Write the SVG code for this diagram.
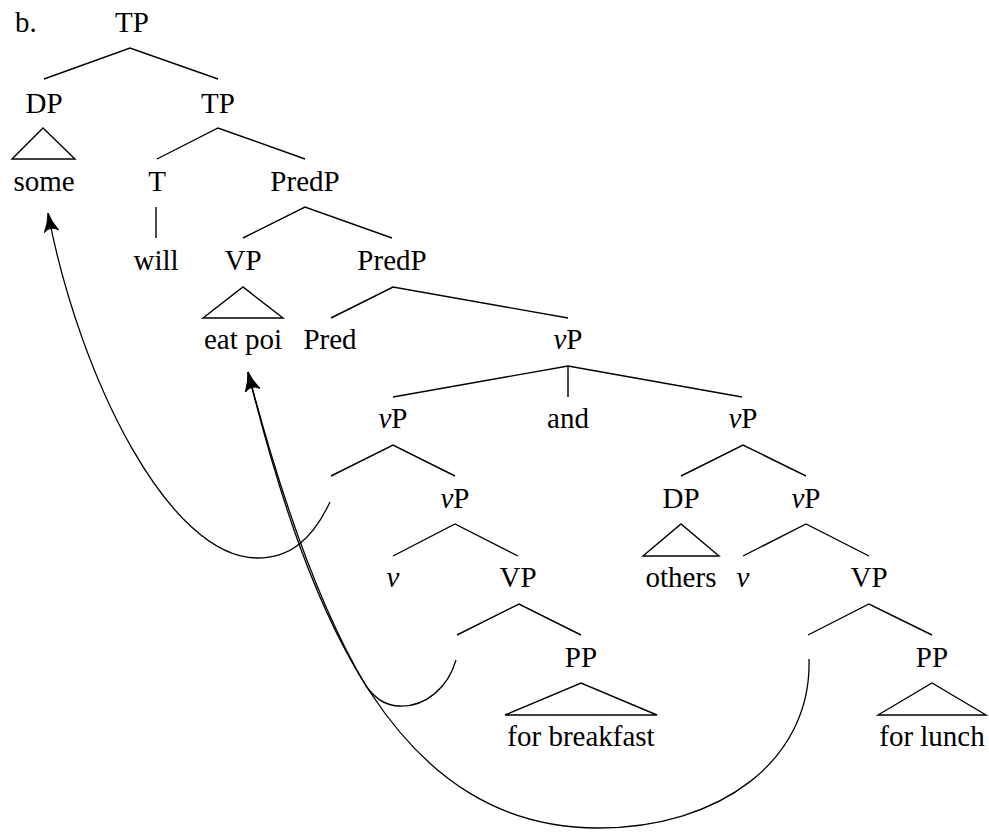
<svg xmlns="http://www.w3.org/2000/svg" width="989" height="832" viewBox="0 0 989 832">
<style>
text{font-family:'Liberation Serif','Times New Roman',serif;font-size:29px;fill:#000;text-anchor:middle}
.l{stroke:#000;stroke-width:1.4;fill:none}
.c{stroke:#000;stroke-width:1.3;fill:none}
.i{font-style:italic}
</style>
<defs>
<marker id="ah" markerUnits="userSpaceOnUse" markerWidth="24" markerHeight="24" refX="0" refY="0" viewBox="-16 -8 18 16" orient="auto">
<path d="M0,0 Q-7,-1.5 -14,-5.5 Q-9.5,0 -14,5.5 Q-7,1.5 0,0 Z" fill="#000" stroke="#000" stroke-width="0.6"/>
</marker>
</defs>
<rect width="989" height="832" fill="#fff"/>
<text x="15" y="32" style="text-anchor:start">b.</text>
<g id="TP0"><text x="132" y="32">TP</text></g>
<g id="DP1"><text x="44" y="113">DP</text></g>
<g id="TP1"><text x="218" y="113">TP</text></g>
<g id="some"><text x="44" y="191">some</text></g>
<g id="T"><text x="157" y="191">T</text></g>
<g id="PredP1"><text x="305" y="191">PredP</text></g>
<g id="will"><text x="156" y="270">will</text></g>
<g id="VP1"><text x="243" y="270">VP</text></g>
<g id="PredP2"><text x="392" y="270">PredP</text></g>
<g id="eatpoi"><text x="243" y="349">eat poi</text></g>
<g id="Pred"><text x="330" y="349">Pred</text></g>
<g id="vP0"><text x="568" y="349"><tspan class="i">v</tspan>P</text></g>
<g id="vP1"><text x="393" y="428"><tspan class="i">v</tspan>P</text></g>
<g id="and"><text x="568" y="428">and</text></g>
<g id="vP2"><text x="743" y="428"><tspan class="i">v</tspan>P</text></g>
<g id="vP3"><text x="455" y="508"><tspan class="i">v</tspan>P</text></g>
<g id="DP2"><text x="681" y="508">DP</text></g>
<g id="vP4"><text x="806" y="508"><tspan class="i">v</tspan>P</text></g>
<g id="v1"><text x="393" y="587" class="i">v</text></g>
<g id="VP2"><text x="518" y="587">VP</text></g>
<g id="others"><text x="681" y="587">others</text></g>
<g id="v2"><text x="743" y="587" class="i">v</text></g>
<g id="VP3"><text x="869" y="587">VP</text></g>
<g id="PP1"><text x="581" y="667">PP</text></g>
<g id="PP2"><text x="932" y="667">PP</text></g>
<g id="forbreakfast"><text x="581" y="746">for breakfast</text></g>
<g id="forlunch"><text x="932" y="746">for lunch</text></g>
<g id="connectors">
<path class="l" d="M44,79 L130,48 L218,79"/>
<path class="l" d="M12,159 L43,128 L75,159 Z"/>
<path class="l" d="M157,159 L218,128 L305,159"/>
<path class="l" d="M156,207 L156,238"/>
<path class="l" d="M243,238 L305,207 L392,238"/>
<path class="l" d="M203,318 L243,287 L283,318 Z"/>
<path class="l" d="M331,318 L393,287 L568,318"/>
<path class="l" d="M393,397 L568,366 L742,397 M568,366 L568,397"/>
<path class="l" d="M331,476 L393,445 L455,476"/>
<path class="l" d="M681,476 L743,445 L806,476"/>
<path class="l" d="M393,556 L455,524 L518,556"/>
<path class="l" d="M643,556 L681,524 L719,556 Z"/>
<path class="l" d="M743,556 L806,524 L869,556"/>
<path class="l" d="M457,635 L519,604 L581,635"/>
<path class="l" d="M808,635 L869,604 L932,635"/>
<path class="l" d="M505,715 L581,683 L657,715 Z"/>
<path class="l" d="M878,715 L932,683 L986,715 Z"/>
<path class="c" marker-end="url(#ah)" d="M330,502 C312,540 290,558 257,558 C170,558 80,380 48,213"/>
<path class="c" marker-end="url(#ah)" d="M456,660 C448,688 425,707 400,706 C388,706 376,700 366,686 C317,604 279.5,492 248,372"/>
<path class="c" marker-end="url(#ah)" d="M809,659 C812,760 720,828 598,828 C398,828 310,622 248,372"/>
</g>
</svg>
